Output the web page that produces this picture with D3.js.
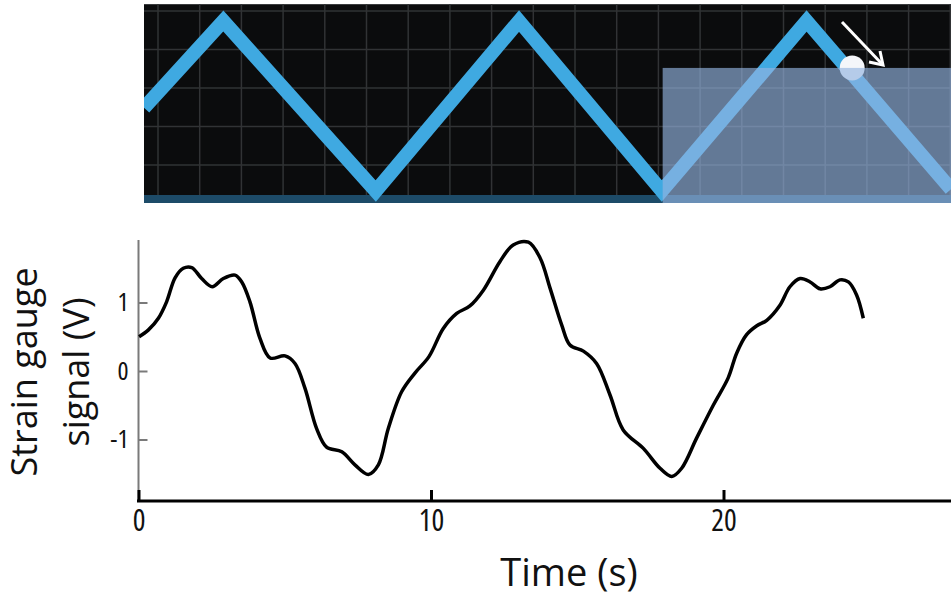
<!DOCTYPE html>
<html>
<head>
<meta charset="utf-8">
<script src="https://cdn.jsdelivr.net/npm/d3@7"></script>
<style>
  html, body { margin: 0; padding: 0; background: #fff; }
  svg { display: block; }
  .narrow { font-stretch: 82%; }
  .title { font-stretch: 93%; }
</style>
</head>
<body>
<div id="chart"></div>
<script>
// strain gauge signal (time in s, volts)
var sigT = [0.02, 0.34, 0.68, 0.96, 1.25, 1.53, 1.82, 2.16, 2.52, 2.90, 3.30, 3.53, 3.81,
            4.15, 4.50, 5.01, 5.35, 5.69, 6.09, 6.43, 6.95, 7.40, 7.86, 8.20, 8.54, 9.00,
            9.45, 9.93, 10.42, 10.88, 11.33, 11.79, 12.36, 12.81, 13.33, 13.73, 14.07,
            14.47, 14.75, 15.21, 15.66, 16.12, 16.57, 17.26, 17.83, 18.23, 18.57, 19.08,
            19.65, 20.16, 20.45, 20.79, 21.14, 21.48, 21.93, 22.27, 22.62, 22.96, 23.30,
            23.64, 23.98, 24.27, 24.55, 24.78];
var sigV = [0.50, 0.60, 0.77, 1.01, 1.36, 1.50, 1.51, 1.35, 1.23, 1.35, 1.40, 1.30, 1.01,
            0.48, 0.19, 0.22, 0.11, -0.25, -0.84, -1.11, -1.18, -1.37, -1.51, -1.37, -0.84, -0.30,
            -0.03, 0.21, 0.62, 0.84, 0.95, 1.18, 1.60, 1.84, 1.88, 1.65, 1.21,
            0.67, 0.38, 0.29, 0.11, -0.35, -0.86, -1.13, -1.42, -1.54, -1.42, -0.98,
            -0.50, -0.10, 0.26, 0.53, 0.66, 0.74, 0.96, 1.23, 1.35, 1.30, 1.20,
            1.23, 1.33, 1.30, 1.11, 0.77];

// triangle wave in the top panel (0 = bottom, 1 = top)
var triT = [0.19, 2.90, 8.11, 13.01, 17.89, 22.84, 27.78];
var triV = [0.49, 1, 0, 1, 0, 1, 0.01];

// ball marker and the highlighted window
var ballT = 24.4, ballV = 0.724;
var windowT = 17.92;

var xTicks = [0, 10, 20];
var yTicks = [-1, 0, 1];

var W = 951, H = 600;
var svg = d3.select("#chart").append("svg")
    .attr("width", W).attr("height", H);

var x = d3.scaleLinear().domain([0, 20]).range([138.5, 723.5]);
var y = d3.scaleLinear().domain([-1, 1]).range([439.5, 302.5]);
var yTop = d3.scaleLinear().domain([0, 1]).range([191, 21]);

// ---------- top panel ----------
var panelL = 144, panelT = 4, panelB = 203;
var topG = svg.append("g");
topG.append("clipPath").attr("id", "pclip")
    .append("rect").attr("x", panelL).attr("y", panelT)
    .attr("width", W - panelL).attr("height", panelB - panelT);

var pg = topG.append("g").attr("clip-path", "url(#pclip)");
pg.append("rect").attr("x", panelL).attr("y", panelT)
    .attr("width", W - panelL).attr("height", panelB - panelT)
    .attr("fill", "#0b0c0d");
pg.append("line").attr("x1", panelL).attr("x2", W)
    .attr("y1", panelT + 0.5).attr("y2", panelT + 0.5)
    .attr("stroke", "#3a3c3e").attr("stroke-width", 1);

// grid
pg.selectAll("line.vg").data(d3.range(158, W, 41.7)).enter()
    .append("line").attr("class", "vg")
    .attr("x1", function(d) { return d; }).attr("x2", function(d) { return d; })
    .attr("y1", panelT).attr("y2", panelB)
    .attr("stroke", "#313335").attr("stroke-width", 1.5);
pg.selectAll("line.hg").data(d3.range(11, 190, 38.5)).enter()
    .append("line").attr("class", "hg")
    .attr("x1", panelL).attr("x2", W)
    .attr("y1", function(d) { return d; }).attr("y2", function(d) { return d; })
    .attr("stroke", "#313335").attr("stroke-width", 1.5);

// bottom band
pg.append("rect").attr("x", panelL).attr("y", 195)
    .attr("width", W - panelL).attr("height", panelB - 195)
    .attr("fill", "#1d4b68");

var tri = d3.line()
    .x(function(d, i) { return x(triT[i]); })
    .y(function(d, i) { return yTop(triV[i]); });
pg.append("path").datum(triT)
    .attr("d", tri)
    .attr("fill", "none")
    .attr("stroke", "#3fa9e1")
    .attr("stroke-width", 14)
    .attr("stroke-linejoin", "miter");

// ball
pg.append("circle")
    .attr("cx", x(ballT)).attr("cy", yTop(ballV)).attr("r", 12.5)
    .attr("fill", "#f4f6fa");

// window overlay
pg.append("rect")
    .attr("x", x(windowT)).attr("y", yTop(ballV))
    .attr("width", W - x(windowT)).attr("height", panelB - yTop(ballV))
    .attr("fill", "#94b4e1").attr("fill-opacity", 0.65);

// arrow
pg.append("line")
    .attr("x1", 842).attr("y1", 22).attr("x2", 882).attr("y2", 64)
    .attr("stroke", "#fff").attr("stroke-width", 3);
pg.append("path")
    .attr("d", "M869,62L883,65L880,51")
    .attr("fill", "none").attr("stroke", "#fff").attr("stroke-width", 3)
    .attr("stroke-linejoin", "miter");

// ---------- bottom chart ----------
var font = "'Open Sans', 'Noto Sans', sans-serif";

var yAxis = d3.axisLeft(y).tickValues(yTicks).tickSize(-9).tickPadding(10)
    .tickFormat(function(d) { return String(d); });
var gy = svg.append("g").attr("transform", "translate(138.5,0)")
    .call(yAxis);
gy.select(".domain").remove();
gy.append("line").attr("x1", 0).attr("x2", 0).attr("y1", 240).attr("y2", 501)
    .attr("stroke", "#7a7a7a").attr("stroke-width", 2);
gy.selectAll(".tick line").attr("stroke", "#7a7a7a").attr("stroke-width", 2);
gy.selectAll(".tick text").attr("fill", "#111")
    .attr("class", "narrow")
    .attr("font-family", font).attr("font-size", 26);

var xAxis = d3.axisBottom(x).tickValues(xTicks).tickSize(-11).tickPadding(9)
    .tickFormat(function(d) { return String(d); });
var gx = svg.append("g").attr("transform", "translate(0,501)")
    .call(xAxis);
gx.select(".domain").remove();
gx.append("line").attr("x1", 137).attr("x2", W).attr("y1", 0).attr("y2", 0)
    .attr("stroke", "#000").attr("stroke-width", 3);
gx.selectAll(".tick line").attr("stroke", "#000").attr("stroke-width", 3);
gx.selectAll(".tick text").attr("fill", "#111")
    .attr("class", "narrow")
    .attr("font-family", font).attr("font-size", 30);

var sig = d3.line()
    .curve(d3.curveCatmullRom.alpha(0.5))
    .x(function(d, i) { return x(sigT[i]); })
    .y(function(d, i) { return y(sigV[i]); });
svg.append("path").datum(sigT)
    .attr("d", sig)
    .attr("fill", "none")
    .attr("stroke", "#000")
    .attr("stroke-width", 3.5)
    .attr("stroke-linejoin", "round");

// axis titles
svg.append("text")
    .attr("class", "title")
    .attr("x", 569).attr("y", 586)
    .attr("text-anchor", "middle")
    .attr("font-family", font).attr("font-size", 38)
    .attr("fill", "#111")
    .text("Time (s)");

svg.append("text")
    .attr("transform", "translate(37,372) rotate(-90)")
    .attr("text-anchor", "middle")
    .attr("font-family", font).attr("font-size", 36)
    .attr("fill", "#111")
    .text("Strain gauge");
svg.append("text")
    .attr("transform", "translate(89,372) rotate(-90)")
    .attr("text-anchor", "middle")
    .attr("font-family", font).attr("font-size", 36)
    .attr("fill", "#111")
    .text("signal (V)");
</script>
</body>
</html>
